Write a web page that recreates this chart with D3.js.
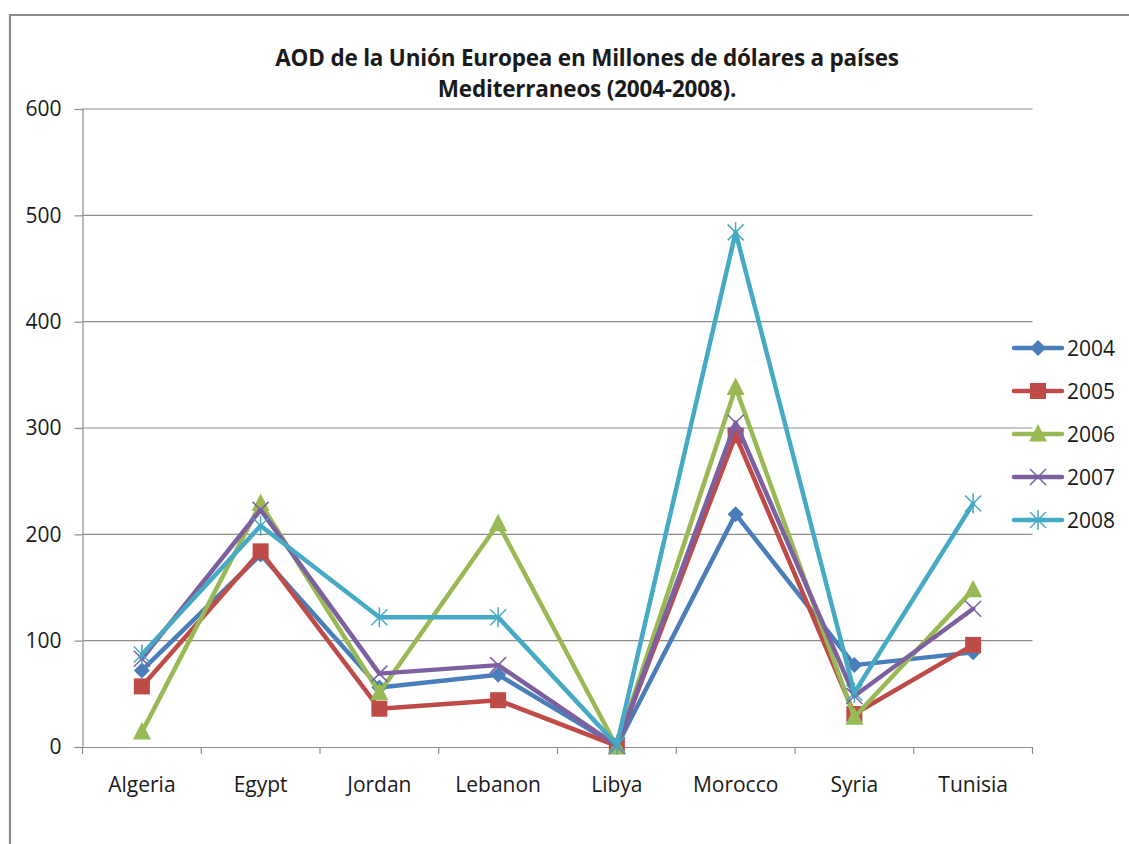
<!DOCTYPE html>
<html><head><meta charset="utf-8">
<script src="https://cdn.jsdelivr.net/npm/d3@7"></script>
<style>body{margin:0;background:#fff;} svg text{font-family:"Open Sans",sans-serif;fill:#1a1a1a;}</style>
</head><body><svg id="c" width="1129" height="844"></svg>
<script>
const categories = ["Algeria","Egypt","Jordan","Lebanon","Libya","Morocco","Syria","Tunisia"];
const years = ["2004","2005","2006","2007","2008"];
const v2004 = [72, 181, 56, 68, 1, 219, 77, 89];
const v2005 = [57, 184, 36, 44, 1, 293, 31, 96];
const v2006 = [14, 229, 51, 210, 0, 338, 28, 148];
const v2007 = [83, 223, 69, 77, 1, 305, 48, 130];
const v2008 = [87, 208, 122, 122, 2, 484, 51, 229];
const yTicks = [0,100,200,300,400,500,600];
const titleLines = ["AOD de la Unión Europea en Millones de dólares a países","Mediterraneos (2004-2008)."];

const seriesValues = [v2004, v2005, v2006, v2007, v2008];
const colors = ["#4A7EBB","#BE4B48","#98B954","#7D60A0","#46AAC5"];
const markers = ["diamond","square","triangle","x","star"];

const svg = d3.select("#c");
const L = 82.5, R = 1032.5, T = 109, B = 747;

// outer border
svg.append("path").attr("d","M10,844 V15 H1129").attr("fill","none").attr("stroke","#8a8a8a").attr("stroke-width",2.2);

const x = d3.scaleBand().domain(categories).range([L,R]);
const y = d3.scaleLinear().domain([0,600]).range([B,T]);

// gridlines
svg.append("g").selectAll("line").data(yTicks.filter(d=>d>0)).join("line")
  .attr("x1",L).attr("x2",R).attr("y1",d=>y(d)).attr("y2",d=>y(d))
  .attr("stroke","#8c8c8c").attr("stroke-width",1.2);

// y axis
const ya = svg.append("g").attr("transform",`translate(${L},0)`)
  .call(d3.axisLeft(y).tickValues(yTicks).tickSize(8).tickPadding(13).tickFormat(d3.format("d")));
ya.select(".domain").attr("stroke","#8c8c8c").attr("stroke-width",1.2);
ya.selectAll(".tick line").attr("stroke","#8c8c8c").attr("stroke-width",1.2);
ya.selectAll("text").style("font-size","21px").attr("fill","#1a1a1a");

// x axis
const xa = svg.append("g").attr("transform",`translate(0,${B})`)
  .call(d3.axisBottom(x).tickSize(0).tickPadding(30));
xa.select(".domain").attr("stroke","#8c8c8c").attr("stroke-width",1.2);
xa.selectAll("text").style("font-size","21px").attr("fill","#1a1a1a");
svg.append("g").selectAll("line").data(d3.range(categories.length+1)).join("line")
  .attr("x1",i=>L + i*x.step()).attr("x2",i=>L + i*x.step())
  .attr("y1",B).attr("y2",B+7).attr("stroke","#8c8c8c").attr("stroke-width",1.2);

// title
svg.append("g").selectAll("text").data(titleLines).join("text")
  .attr("x",587).attr("y",(d,i)=>66 + i*31).attr("text-anchor","middle")
  .style("font-size","22.5px").style("font-weight","bold").style("letter-spacing","-0.2px").text(d=>d);

function drawMarker(g, type, cx, cy, color){
  if(type==="diamond"){
    g.append("path").attr("d",`M${cx},${cy-8}L${cx+8},${cy}L${cx},${cy+8}L${cx-8},${cy}Z`).attr("fill",color);
  } else if(type==="square"){
    g.append("rect").attr("x",cx-8).attr("y",cy-8).attr("width",16).attr("height",16).attr("fill",color);
  } else if(type==="triangle"){
    g.append("path").attr("d",`M${cx},${cy-10}L${cx+9},${cy+7.5}L${cx-9},${cy+7.5}Z`).attr("fill",color);
  } else if(type==="x"){
    g.append("path").attr("d",`M${cx-8},${cy-8}L${cx+8},${cy+8}M${cx-8},${cy+8}L${cx+8},${cy-8}`).attr("stroke",color).attr("stroke-width",1.5);
  } else if(type==="star"){
    g.append("path").attr("d",`M${cx-8},${cy-8}L${cx+8},${cy+8}M${cx-8},${cy+8}L${cx+8},${cy-8}M${cx},${cy-10}L${cx},${cy+10}`).attr("stroke",color).attr("stroke-width",1.5);
  }
}

const line = d3.line().x((d,i)=>x(categories[i])+x.bandwidth()/2).y(d=>y(d));
seriesValues.forEach((vals,si)=>{
  const g = svg.append("g");
  g.append("path").attr("d",line(vals)).attr("fill","none").attr("stroke",colors[si])
    .attr("stroke-width",4.5).attr("stroke-linejoin","round").attr("stroke-linecap","round");
  vals.forEach((v,i)=>drawMarker(g, markers[si], x(categories[i])+x.bandwidth()/2, y(v), colors[si]));
});

// legend
const lg = svg.append("g");
years.forEach((yr,i)=>{
  const ly = 348 + i*43;
  lg.append("line").attr("x1",1014).attr("x2",1062).attr("y1",ly).attr("y2",ly)
    .attr("stroke",colors[i]).attr("stroke-width",4.5).attr("stroke-linecap","round");
  drawMarker(lg, markers[i], 1038, ly, colors[i]);
  lg.append("text").attr("x",1067).attr("y",ly+7.5).style("font-size","21px").text(yr);
});
</script></body></html>
